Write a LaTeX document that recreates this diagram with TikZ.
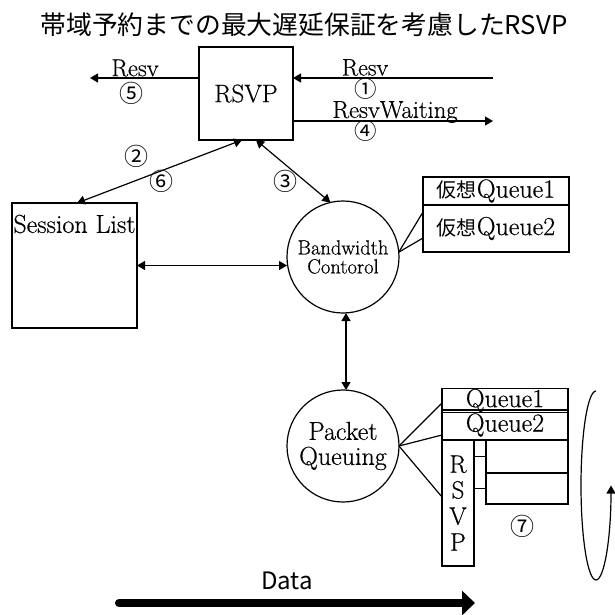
\documentclass[tikz,border=0pt]{standalone}
\usepackage{fontspec}
\setmainfont{Latin Modern Roman}[FakeBold=0.5]
\newfontfamily\jp{Noto Sans CJK JP}
\usetikzlibrary{arrows.meta}
\newcommand{\fs}[1]{\fontsize{#1}{#1}\selectfont}
\begin{document}
\begin{tikzpicture}[x=1pt,y=-1pt,
  every node/.style={inner sep=0pt, outer sep=0pt},
  box/.style={draw, line width=1.2pt},
  conn/.style={line width=1.2pt, -{Triangle[length=8pt,width=9pt]}},
  biconn/.style={line width=1.2pt, {Triangle[length=8pt,width=9pt]}-{Triangle[length=8pt,width=9pt]}},
  plain/.style={line width=1.2pt},
  circnum/.style={font=\jp\fs{24}, text height=17pt, text depth=0.5pt},
  smallnum/.style={font=\jp\fs{22.5}, text height=16pt, text depth=0.5pt}]
\useasboundingbox (0,0) rectangle (615,614);

% title
\node (title) at (304,25) {\jp\fs{25.8}帯域予約までの最大遅延保証を考慮したRSVP};

% RSVP block and its message arrows
\node[box, minimum width=94pt, minimum height=93pt, font=\fs{25.3}] (rsvp) at (246,93.5) {RSVP};
\coordinate (resvL) at (90,78);
\coordinate (resvR) at (493,78);
\coordinate (waitR) at (493,121);
\draw[conn] (rsvp.west |- resvL) -- (resvL);
\draw[conn] (resvR) -- (rsvp.east |- resvR);
\draw[conn] (rsvp.east |- waitR) -- (waitR);
\node[font=\fs{24.5}] (lresv) at (135,68) {Resv};
\node[circnum] (n5) at (131,94) {⑤};
\node[font=\fs{24}] (rresv) at (365,67.5) {Resv};
\node[smallnum] (n1) at (366,90) {①};
\node[font=\fs{24.6}, text depth=3pt] (lwait) at (395,111) {ResvWaiting};
\node[smallnum] (n4) at (366,131.5) {④};

% session list
\node[box, minimum width=125pt, minimum height=125pt] (sess) at (74.5,265.5) {};
\node[font=\fs{26}] (sesstext) at (74.5,224) {Session List};

% bandwidth control
\node[box, circle, minimum size=112pt, align=center, font=\fontsize{20.5}{19}\selectfont] (bw) at (343,257)
  {Bandwidth\\Contorol};

% virtual queues
\node[box, minimum width=146pt, minimum height=28pt, font=\fs{26}] (vq1) at (496,191) {{\jp\fs{20}仮想}Queue1};
\node[box, minimum width=146pt, minimum height=47pt, font=\fs{26}] (vq2) at (496,228.5) {{\jp\fs{20}仮想}Queue2};
\draw[plain] (bw.5) -- ([yshift=-7pt]vq2.north west);
\draw[plain] (bw.5) -- ([yshift=-9.5pt]vq2.west);

% links between blocks
\draw[biconn] ([xshift=-4pt]rsvp.south) -- ([xshift=2.5pt]sess.north);
\draw[biconn] ([xshift=10pt]rsvp.south) -- (bw.103.5);
\draw[biconn] (sess.east) -- (sess.east -| bw.west);
\node[circnum] (n2) at (136,157) {②};
\node[circnum] (n6) at (161,182) {⑥};
\node[circnum] (n3) at (285,182) {③};

% packet queuing
\node[box, circle, minimum size=112pt, align=center, font=\fontsize{26}{25}\selectfont] (pq) at (343,446)
  {Packet\\Queuing};
\draw[biconn] ([xshift=3pt]bw.south) -- ([xshift=3pt]pq.north);

% queues
\node[box, minimum width=126pt, minimum height=19pt, font=\fs{26}] (q1) at (505,400.5) {Queue1};
\node[box, minimum width=126pt, minimum height=30pt, font=\fs{26}] (q2) at (505,425) {Queue2};
\node[box, minimum width=32pt, minimum height=126pt, align=center,
      font=\fontsize{25}{26}\selectfont] (rc) at (458,503) {R\\S\\V\\P};
\node[box, minimum width=82pt, minimum height=33pt] (b1) at (527,456.5) {};
\node[box, minimum width=82pt, minimum height=31pt] (b2) at (527,488.5) {};
\draw[plain] (rc.east |- b1.west) -- (b1.west);
\draw[plain] (rc.east |- b2.west) -- (b2.west);
\draw[plain] (pq.east) -- ([yshift=-2.5pt]q1.west);
\draw[plain] (pq.east) -- ([yshift=-10pt]q2.west);
\draw[plain] (pq.east) -- ([yshift=6pt]rc.west);
\node[circnum] (n7) at (522,527) {⑦};

% cycle arrow
\coordinate (cyc) at (596,391);
\draw[conn] (cyc) arc[start angle=-90, end angle=-360, x radius=15, y radius=94.5];

% data flow
\coordinate (dataS) at (119,603);
\coordinate (dataE) at (475,603);
\draw[line width=8pt, line cap=round, -{Triangle[length=13pt,width=24pt]}] (dataS) -- (dataE);
\node[font=\jp\fs{24}] (data) at (287,581) {Data};
\end{tikzpicture}
\end{document}
